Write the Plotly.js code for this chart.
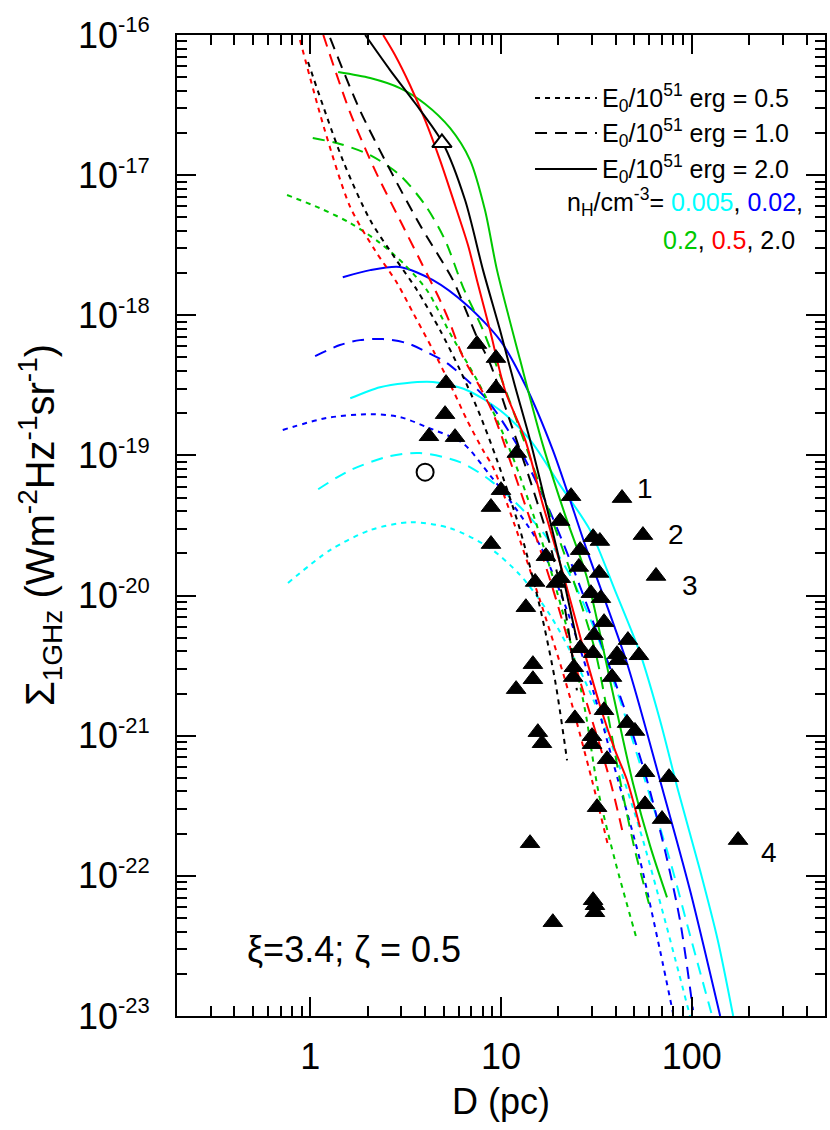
<!DOCTYPE html>
<html>
<head>
<meta charset="utf-8">
<script src="https://cdn.plot.ly/plotly-3.0.1.min.js"></script>
<style>
  html, body { margin: 0; padding: 0; background: #ffffff; }
  #chart { width: 830px; height: 1130px; }
</style>
</head>
<body>
<div id="chart"></div>
<script>
/* Surface brightness vs diameter (Sigma-D) of SNRs: model tracks for three
   explosion energies x five ambient densities, plus the observed sample. */

// ---- model tracks: D (pc) and Sigma_1GHz (W m^-2 Hz^-1 sr^-1) ----
// n_H = 0.005 (cyan)
var cyanDotD = [0.764, 1.27, 2.06, 3.33, 5.40, 8.75, 12.6, 18.1, 25.9, 37.3, 53.6, 72.4, 98.0];
var cyanDotS = [1.23e-20, 2.11e-20, 2.93e-20, 3.34e-20, 3.03e-20, 2.18e-20, 1.40e-20, 7.24e-21, 2.94e-21, 9.29e-22, 2.11e-22, 4.82e-23, 1.0e-23];
var cyanDashD = [1.10, 1.62, 2.62, 3.76, 6.10, 8.75, 12.6, 17.0, 23.0, 31.1, 42.1, 56.9, 76.9, 98.0, 128];
var cyanDashS = [5.74e-20, 7.85e-20, 9.89e-20, 1.04e-19, 8.96e-20, 6.67e-20, 4.28e-20, 2.70e-20, 1.40e-20, 5.66e-21, 1.79e-21, 4.81e-22, 1.29e-22, 3.77e-23, 1.0e-23];
var cyanSolidD = [1.62, 2.32, 3.14, 4.40, 6.63, 9.88, 14.2, 20.4, 29.3, 39.6, 53.6, 68.2, 84.8, 110.5, 137, 165];
var cyanSolidS = [2.56e-19, 3.07e-19, 3.28e-19, 3.34e-19, 2.92e-19, 2.10e-19, 1.29e-19, 6.14e-20, 2.93e-20, 1.09e-20, 3.88e-21, 1.29e-21, 4.08e-22, 1.10e-22, 3.47e-23, 1.0e-23];

// n_H = 0.02 (blue)
var blueDotD = [0.717, 1.22, 2.06, 2.95, 4.09, 6.32, 8.75, 11.1, 16.0, 21.7, 29.3, 41.1, 53.6, 68.2, 79.8];
var blueDotS = [1.52e-19, 1.85e-19, 1.97e-19, 1.88e-19, 1.59e-19, 1.22e-19, 7.23e-20, 4.80e-20, 2.29e-20, 8.53e-21, 2.49e-21, 4.81e-22, 1.29e-22, 2.94e-23, 1.05e-23];
var blueDashD = [1.06, 1.43, 1.82, 2.41, 3.21, 4.09, 5.21, 6.63, 8.05, 9.53, 12.6, 17.0, 23.0, 33.0, 44.7, 58.3, 72.4, 86.8, 101.6];
var blueDashS = [5.12e-19, 6.13e-19, 6.65e-19, 6.76e-19, 6.33e-19, 5.46e-19, 4.56e-19, 3.45e-19, 2.69e-19, 2.00e-19, 1.09e-19, 4.80e-20, 1.79e-20, 4.81e-21, 1.52e-21, 4.81e-22, 1.52e-22, 4.82e-23, 1.10e-23];
var blueSolidD = [1.48, 2.06, 2.95, 4.40, 6.63, 9.88, 13.4, 18.7, 28.2, 45.8, 68.2, 98.0, 141];
var blueSolidS = [1.87e-18, 2.10e-18, 2.21e-18, 1.78e-18, 1.18e-18, 6.65e-19, 3.18e-19, 1.09e-19, 2.11e-20, 3.29e-21, 4.81e-22, 7.89e-23, 1.0e-23];

// n_H = 0.2 (green)
var greenDotD = [0.755, 1.12, 1.62, 2.32, 3.14, 4.09, 5.40, 7.48, 9.53, 11.8, 15.1, 18.7, 23.0, 27.6, 32.3, 39.6, 51.7];
var greenDotS = [7.21e-18, 5.82e-18, 4.55e-18, 3.28e-18, 2.28e-18, 1.51e-18, 7.46e-19, 3.45e-19, 1.79e-19, 8.96e-20, 3.45e-20, 1.35e-20, 4.81e-21, 1.52e-21, 4.08e-22, 1.29e-22, 3.47e-23];
var greenDashD = [1.03, 1.43, 2.06, 2.95, 4.00, 5.09, 6.32, 8.05, 9.88, 12.6, 17.0, 23.0, 31.1, 36.4, 42.1, 50.4, 60.4];
var greenDashS = [1.84e-17, 1.67e-17, 1.39e-17, 1.0e-17, 6.12e-18, 3.44e-18, 1.59e-18, 7.84e-19, 3.74e-19, 1.52e-19, 4.80e-20, 1.52e-20, 4.08e-21, 1.40e-21, 4.81e-22, 1.52e-22, 5.97e-23];
var greenSolidD = [1.40, 2.06, 2.95, 4.00, 5.40, 6.88, 8.24, 9.53, 12.6, 16.6, 21.7, 28.2, 37.3, 49.2, 60.4, 74.2];
var greenSolidS = [5.44e-17, 4.93e-17, 4.18e-17, 3.22e-17, 2.17e-17, 1.28e-17, 5.63e-18, 2.10e-18, 4.79e-19, 1.18e-19, 3.75e-20, 1.35e-20, 2.49e-21, 4.58e-22, 1.65e-22, 7.03e-23];

// n_H = 0.5 (red)
var redDotD = [0.883, 1.19, 1.62, 2.18, 2.85, 3.46, 4.40, 5.60, 6.63, 8.05, 9.08, 11.8, 16.0, 21.7, 30.0, 36.4];
var redDotS = [9.21e-17, 2.10e-17, 5.92e-18, 2.92e-18, 1.70e-18, 1.04e-18, 5.64e-19, 2.92e-19, 1.79e-19, 1.09e-19, 8.25e-20, 3.18e-20, 9.27e-21, 2.49e-21, 4.81e-22, 1.65e-22];
var redDashD = [1.17, 1.62, 2.18, 2.95, 3.76, 4.79, 5.40, 6.32, 7.76, 9.08, 12.6, 18.1, 25.9, 37.3, 43.6];
var redDashS = [1.0e-16, 2.78e-17, 1.09e-17, 4.78e-18, 2.48e-18, 1.28e-18, 8.80e-19, 5.03e-19, 3.07e-19, 2.00e-19, 5.65e-20, 1.29e-20, 2.49e-21, 4.81e-22, 2.01e-22];
var redSolidD = [2.41, 2.78, 3.33, 4.00, 4.79, 5.74, 6.71, 7.48, 8.75, 10.5, 13.4, 16.6, 20.9, 26.3, 33.0, 39.6, 45.8, 53.6];
var redSolidS = [1.0e-16, 7.20e-17, 4.40e-17, 2.47e-17, 1.28e-17, 6.12e-18, 3.17e-18, 1.78e-18, 7.84e-19, 2.92e-19, 1.29e-19, 4.42e-20, 1.52e-20, 4.81e-21, 1.65e-21, 7.88e-22, 4.81e-22, 2.22e-22];

// n_H = 2.0 (black)
var blackDotD = [0.973, 1.48, 2.06, 2.78, 3.63, 4.79, 6.10, 7.58, 9.53, 12.6, 16.0, 19.2, 22.2];
var blackDotS = [6.42e-17, 1.28e-17, 4.78e-18, 2.56e-18, 1.51e-18, 7.84e-19, 4.06e-19, 2.10e-19, 9.26e-20, 2.93e-20, 8.26e-21, 2.49e-21, 6.68e-22];
var blackDashD = [1.27, 1.82, 2.62, 3.76, 5.60, 6.63, 7.48, 8.75, 11.1, 14.2, 18.1, 21.7, 25.0];
var blackDashS = [9.52e-17, 2.91e-17, 1.09e-17, 4.40e-18, 1.78e-18, 1.04e-18, 6.99e-19, 4.56e-19, 1.79e-19, 6.67e-20, 2.29e-20, 7.87e-21, 2.11e-21];
var blackSolidD = [1.94, 2.62, 3.54, 4.96, 6.48, 8.05, 9.88, 11.8, 14.2, 17.0, 19.7, 22.5, 25.0];
var blackSolidS = [1.0e-16, 5.62e-17, 3.27e-17, 1.69e-17, 6.64e-18, 2.10e-18, 7.84e-19, 3.18e-19, 1.29e-19, 4.80e-20, 2.11e-20, 9.27e-21, 4.81e-21];

// ---- observed remnants ----
var obsD = [7.48, 9.41, 5.15, 9.41, 5.09, 4.19, 5.74, 12.1, 10.0, 8.86, 23.3, 43.1, 20.4, 55.5, 30.4, 33.0,
  8.86, 26.0, 17.2, 65.0, 25.6, 32.7, 15.1, 20.6, 19.4, 29.6, 33.4, 13.5, 34.7, 30.7, 46.3, 26.0, 30.4,
  40.6, 52.9, 41.1, 14.7, 24.1, 14.7, 23.9, 38.2, 12.0, 34.7, 24.4, 45.8, 50.4, 30.0, 15.6, 16.4, 30.0,
  36.0, 56.9, 76.0, 31.9, 56.9, 69.9, 14.2, 175, 30.4, 31.1, 31.1, 18.7];
var obsS = [6.23e-19, 4.95e-19, 3.28e-19, 3.02e-19, 1.97e-19, 1.37e-19, 1.35e-19, 1.04e-19, 5.65e-20, 4.28e-20,
  5.12e-20, 4.96e-20, 3.40e-20, 2.70e-20, 2.61e-20, 2.45e-20, 2.33e-20, 2.11e-20, 1.91e-20, 1.38e-20,
  1.60e-20, 1.45e-20, 1.25e-20, 1.33e-20, 1.23e-20, 1.04e-20, 9.58e-21, 8.26e-21, 6.46e-21, 5.22e-21,
  4.81e-21, 4.21e-21, 3.88e-21, 3.82e-21, 3.75e-21, 3.46e-21, 3.24e-21, 3.08e-21, 2.53e-21, 2.62e-21,
  2.62e-21, 2.15e-21, 1.52e-21, 1.33e-21, 1.23e-21, 1.08e-21, 9.92e-22, 1.06e-21, 8.84e-22, 8.70e-22,
  6.80e-22, 5.49e-22, 5.06e-22, 3.09e-22, 3.24e-22, 2.54e-22, 1.71e-22, 1.80e-22, 6.70e-23, 6.17e-23,
  5.50e-23, 4.67e-23];
var openTriD = [4.9];
var openTriS = [1.7e-17];
var openCircD = [4.0];
var openCircS = [7.6e-20];

// ---- axis ticks ----
var xTickVals = [1, 10, 100];
var xTickText = ["1", "10", "100"];
var yExps = [-23, -22, -21, -20, -19, -18, -17, -16];

(function () {
  "use strict";

  var FONT = "Liberation Sans, Arial, sans-serif";
  var CYAN = "#00ffff";
  var BLUE = "#0000ff";
  var GREEN = "#00c800";
  var RED = "#ff0000";
  var BLACK = "#000000";
  var DOT = "5px,5px";
  var DASH = "12px,8px";

  var tracks = [
    [cyanDotD, cyanDotS, CYAN, DOT], [cyanDashD, cyanDashS, CYAN, DASH], [cyanSolidD, cyanSolidS, CYAN, "solid"],
    [blueDotD, blueDotS, BLUE, DOT], [blueDashD, blueDashS, BLUE, DASH], [blueSolidD, blueSolidS, BLUE, "solid"],
    [greenDotD, greenDotS, GREEN, DOT], [greenDashD, greenDashS, GREEN, DASH], [greenSolidD, greenSolidS, GREEN, "solid"],
    [redDotD, redDotS, RED, DOT], [redDashD, redDashS, RED, DASH], [redSolidD, redSolidS, RED, "solid"],
    [blackDotD, blackDotS, BLACK, DOT], [blackDashD, blackDashS, BLACK, DASH], [blackSolidD, blackSolidS, BLACK, "solid"],
  ];

  var traces = tracks.map(function (t) {
    return {
      type: "scatter",
      mode: "lines",
      x: t[0],
      y: t[1],
      line: { color: t[2], width: 2, dash: t[3], shape: "spline", smoothing: 0.8 },
      hoverinfo: "skip",
    };
  });

  traces.push({
    type: "scatter",
    mode: "markers",
    x: obsD,
    y: obsS,
    marker: { symbol: "triangle-up", size: 17, color: BLACK, line: { color: BLACK, width: 1 } },
  });
  traces.push({
    type: "scatter",
    mode: "markers",
    x: openTriD,
    y: openTriS,
    marker: { symbol: "triangle-up", size: 17, color: "#ffffff", line: { color: BLACK, width: 2 } },
  });
  traces.push({
    type: "scatter",
    mode: "markers",
    x: openCircD,
    y: openCircS,
    marker: { symbol: "circle-open", size: 17, color: BLACK, line: { width: 2 } },
  });

  // decade labels as 10^n, minor ticks at 2..9 in every decade
  var yTickVals = yExps.map(function (e) { return Math.pow(10, e); });
  var yTickText = yExps.map(function (e) {
    return "10<sup><span style=\"font-size:22px\">" + e + "</span></sup>";
  });
  var yMinor = [];
  yExps.slice(0, -1).forEach(function (e) {
    for (var k = 2; k <= 9; k++) yMinor.push(k * Math.pow(10, e));
  });
  var xMinor = [];
  [-1, 0, 1, 2].forEach(function (e) {
    for (var k = 2; k <= 9; k++) {
      var v = k * Math.pow(10, e);
      if (v > 0.2 && v < 500.1) xMinor.push(v);
    }
  });

  function axisBase() {
    return {
      type: "log",
      showline: true,
      linewidth: 2,
      linecolor: BLACK,
      mirror: "ticks",
      ticks: "inside",
      ticklen: 19,
      tickwidth: 2,
      tickcolor: BLACK,
      showgrid: false,
      zeroline: false,
      tickfont: { family: FONT, size: 36, color: BLACK },
    };
  }

  var xaxis = axisBase();
  xaxis.range = [Math.log10(0.2), Math.log10(500)];
  xaxis.tickmode = "array";
  xaxis.tickvals = xTickVals;
  xaxis.ticktext = xTickText;
  xaxis.ticklabelstandoff = 8;
  xaxis.minor = { tickmode: "array", tickvals: xMinor, ticks: "inside", ticklen: 10, tickwidth: 2, tickcolor: BLACK };

  var yaxis = axisBase();
  yaxis.range = [-23, -16];
  yaxis.tickmode = "array";
  yaxis.tickvals = yTickVals;
  yaxis.ticktext = yTickText;
  yaxis.ticklabelstandoff = 18;
  yaxis.minor = { tickmode: "array", tickvals: yMinor, ticks: "inside", ticklen: 10, tickwidth: 2, tickcolor: BLACK };

  // hand-drawn key in the upper right corner
  var keyRows = [
    { y: 0.9358, dash: DOT, text: "E<sub>0</sub>/10<sup>51</sup> erg = 0.5" },
    { y: 0.9001, dash: DASH, text: "E<sub>0</sub>/10<sup>51</sup> erg = 1.0" },
    { y: 0.8634, dash: "solid", text: "E<sub>0</sub>/10<sup>51</sup> erg = 2.0" },
  ];
  var shapes = keyRows.map(function (r) {
    return {
      type: "line", xref: "paper", yref: "paper",
      x0: 0.5525, x1: 0.6481, y0: r.y, y1: r.y,
      line: { color: BLACK, width: 2, dash: r.dash },
    };
  });

  function note(x, y, text, size, xanchor) {
    return {
      xref: "paper", yref: "paper", x: x, y: y, text: text, showarrow: false,
      xanchor: xanchor || "center", yanchor: "middle",
      font: { family: FONT, size: size, color: BLACK },
    };
  }

  var annotations = keyRows.map(function (r) {
    return note(0.6528, r.y, r.text, 25, "left");
  });
  annotations.push(note(0.9691, 0.8297,
    "n<sub>H</sub>/cm<sup>-3</sup>= <span style=\"color:" + CYAN + "\">0.005</span>, " +
    "<span style=\"color:" + BLUE + "\">0.02</span>,", 25, "right"));
  annotations.push(note(0.9568, 0.7910,
    "<span style=\"color:" + GREEN + "\">0.2</span>, " +
    "<span style=\"color:" + RED + "\">0.5</span>, 2.0", 25, "right"));
  annotations.push(note(0.7222, 0.5382, "1", 28));
  annotations.push(note(0.7701, 0.4913, "2", 28));
  annotations.push(note(0.7917, 0.4393, "3", 28));
  annotations.push(note(0.9136, 0.1662, "4", 28));
  annotations.push(note(0.4414, 0.0673, "\u03be=3.4; \u03b6 = 0.5", 36, "right"));
  // axis titles
  annotations.push(note(0.5, -0.0876, "D (pc)", 36));
  var ytitle = note(-0.2114, 0.5005,
    "\u03a3<sub>1GHz</sub> (Wm<sup>-2</sup>Hz<sup>-1</sup>sr<sup>-1</sup>)", 40);
  ytitle.textangle = -90;
  annotations.push(ytitle);

  var layout = {
    width: 830,
    height: 1130,
    margin: { l: 177, r: 5, t: 35, b: 114 },
    paper_bgcolor: "#ffffff",
    plot_bgcolor: "#ffffff",
    showlegend: false,
    font: { family: FONT, color: BLACK },
    xaxis: xaxis,
    yaxis: yaxis,
    shapes: shapes,
    annotations: annotations,
  };

  Plotly.newPlot("chart", traces, layout, { displayModeBar: false, staticPlot: true });
})();
</script>
</body>
</html>
